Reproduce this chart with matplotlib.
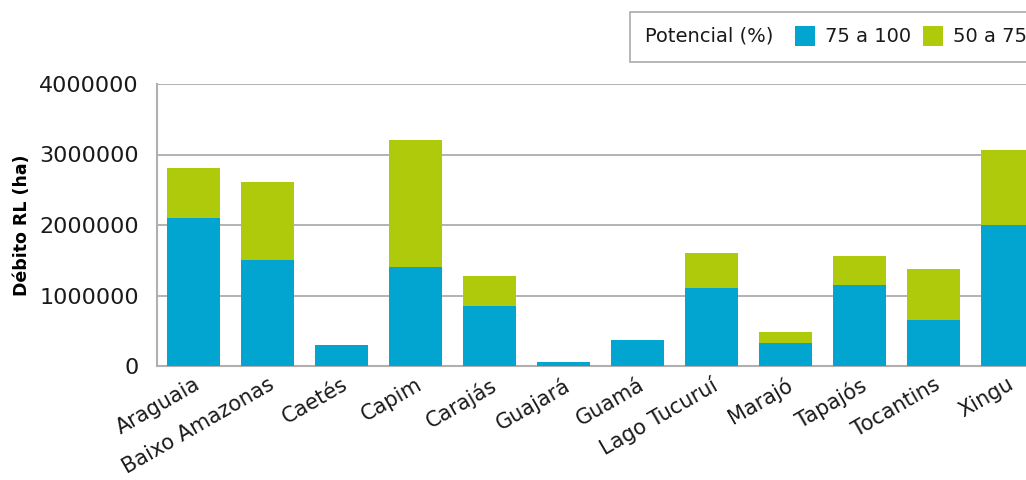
import numpy as np
import matplotlib.pyplot as plt
from matplotlib.patches import Rectangle

plt.rcParams['font.family'] = ['DejaVu Sans']

regioes = ["Araguaia", "Baixo Amazonas", "Caetés", "Capim", "Carajás", "Guajará",
           "Guamá", "Lago Tucuruí", "Marajó", "Tapajós", "Tocantins", "Xingu"]
pot_75_100 = [2100000, 1500000, 300000, 1400000, 850000, 60000,
              370000, 1110000, 330000, 1150000, 650000, 2000000]
pot_50_75 = [710000, 1110000, 0, 1810000, 430000, 0,
             0, 490000, 150000, 410000, 730000, 1060000]
yticks = [0, 1000000, 2000000, 3000000, 4000000]

azul = "#02a5d0"
verde = "#afca0b"

fig = plt.figure(figsize=(10.26, 4.8), dpi=100)
ax = fig.add_axes([0.153, 0.2375, 0.847, 0.5875])

x = np.arange(len(regioes))
ax.bar(x, pot_75_100, width=0.72, color=azul, zorder=3)
ax.bar(x, pot_50_75, width=0.72, bottom=pot_75_100, color=verde, zorder=3)

ax.set_xlim(-0.49, 11.25)
ax.set_ylim(0, 4000000)
ax.set_yticks(yticks)
ax.set_yticklabels([str(v) for v in yticks], fontsize=16, color="#1a1a1a")
ax.set_xticks(x)
ax.set_xticklabels(regioes, rotation=30, ha="right", rotation_mode="anchor",
                   fontsize=15, color="#1a1a1a")
ax.tick_params(axis="x", length=0, pad=6)
ax.tick_params(axis="y", length=0, pad=13)
ax.grid(axis="y", color="#a6a6a6", linewidth=1.2, zorder=0)
for s in ["top", "right"]:
    ax.spines[s].set_visible(False)
for s in ["left", "bottom"]:
    ax.spines[s].set_color("#b0b0b0")
    ax.spines[s].set_linewidth(1.5)
ax.set_ylabel("Débito RL (ha)", fontsize=12.5, fontweight="bold", labelpad=6)

# legenda manual
fig.patches.append(Rectangle((0.614, 0.871), 0.40, 0.104, transform=fig.transFigure,
                             facecolor="white", edgecolor="#aaaaaa", linewidth=1.2))
fig.text(0.629, 0.925, "Potencial (%)", fontsize=14, va="center", color="#1a1a1a")
fig.patches.append(Rectangle((0.775, 0.904), 0.0195, 0.042, transform=fig.transFigure,
                             facecolor=azul, edgecolor="none"))
fig.text(0.804, 0.925, "75 a 100", fontsize=14, va="center", color="#1a1a1a")
fig.patches.append(Rectangle((0.8995, 0.904), 0.0195, 0.042, transform=fig.transFigure,
                             facecolor=verde, edgecolor="none"))
fig.text(0.929, 0.925, "50 a 75", fontsize=14, va="center", color="#1a1a1a")

fig.savefig("out.png", dpi=100)
